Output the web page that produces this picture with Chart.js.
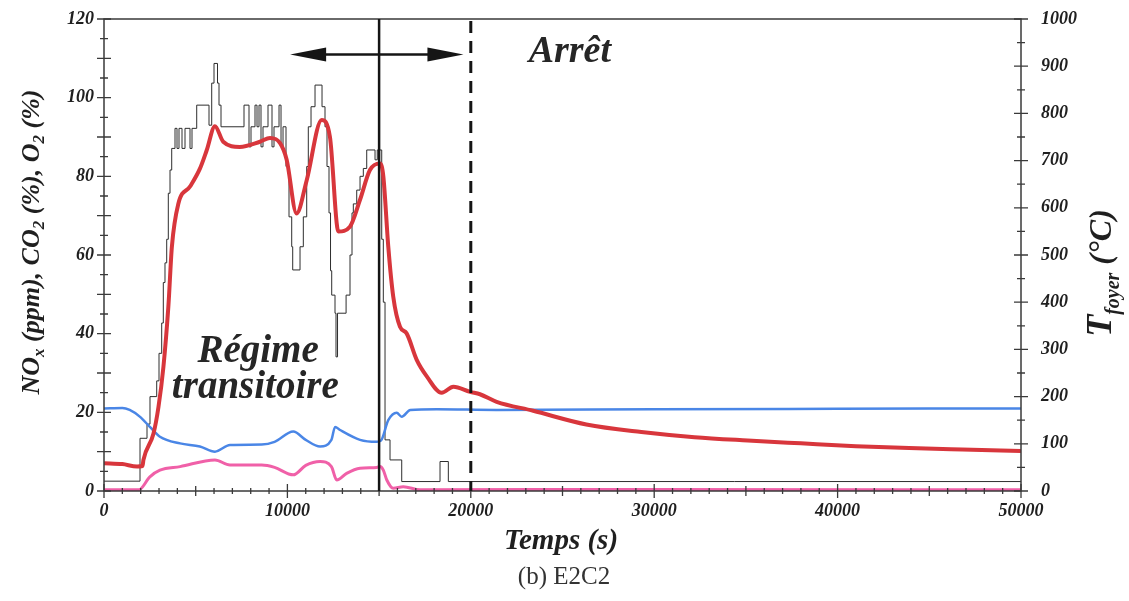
<!DOCTYPE html>
<html lang="fr">
<head>
<meta charset="utf-8">
<title>E2C2</title>
<script src="https://cdn.jsdelivr.net/npm/chart.js"></script>
<style>
  html, body { margin: 0; padding: 0; background: #fff; }
  #wrap { width: 1129px; height: 601px; }
</style>
</head>
<body>
<div id="wrap"><canvas id="lineChart" width="1129" height="601"></canvas></div>
<script>
// Ticks des axes
const xTickValues = [0, 10000, 20000, 30000, 40000, 50000];
const yTickValues = [0, 20, 40, 60, 80, 100, 120];
const y1TickValues = [0, 100, 200, 300, 400, 500, 600, 700, 800, 900, 1000];

// NOx (ppm) - signal en escalier, chaque valeur tient jusqu'au point suivant
const noxTime = [0, 1963, 2345, 2508, 2874, 2999, 3146, 3234, 3326, 3419, 3506, 3599, 3692, 3872, 3981, 4090, 4253, 4417, 4690, 4799,
  5055, 5726, 5873, 5998, 6189, 6271, 6380, 7634, 7907, 8016, 8234, 8343, 8452, 8561, 8670, 8943, 9161, 9270, 9543, 9652,
  9761, 9924, 10088, 10235, 10290, 10688, 10868, 11053, 11140, 11288, 11506, 11888, 12051, 12160, 12269, 12351, 12416, 12596, 12650, 12733,
  13200, 13414, 13523, 13594, 13780, 13960, 14140, 14325, 14778, 14900, 15143, 15230, 15323, 15596, 16234, 18322, 18775, 50000];
const noxPpm = [2.5, 13.4, 17, 24, 28, 35, 42.7, 53, 58, 64, 75.7, 81.6, 87.1, 92.2, 87.1, 92.2, 87.1, 92.2, 87.1, 92.2,
  98.1, 93, 103.7, 108.7, 103.7, 98.1, 92.6, 98.1, 87.5, 92.6, 98.1, 92.6, 98.1, 87.5, 92.6, 98.1, 87.5, 92.6, 98.1, 87.5,
  92.6, 82.5, 69.7, 62.1, 56.2, 62.1, 69.7, 82.5, 92.6, 97.7, 103.2, 97.7, 92.6, 82.5, 70.7, 56, 49.8, 45.2, 34.1, 45.2,
  49.8, 60, 70.7, 73, 76.5, 80, 82, 86.7, 84.2, 86.7, 64, 48, 13, 7.9, 2.4, 7.5, 2.4, 2.4];

// O2 (%)
const o2Time = [0, 1000, 1400, 1950, 2500, 3050, 4150, 5230, 6050, 6870, 8600, 9300, 10320, 11000, 11780, 12400, 12600, 12870, 13960, 14870,
  15100, 15500, 15960, 16230, 16700, 18140, 21400, 30000, 40000, 50000];
const o2Pct = [21.0, 21.1, 20.6, 18.9, 16.3, 13.8, 12.1, 11.3, 10.0, 11.7, 11.8, 12.5, 15.1, 13.0, 11.3, 13.0, 16.3, 15.5, 13.0, 12.5,
  12.8, 18.0, 19.9, 18.9, 20.6, 20.8, 20.6, 20.8, 20.9, 21.0];

// CO2 (%)
const co2Time = [0, 1900, 2500, 3050, 4150, 6050, 6870, 8600, 9300, 10320, 11000, 11780, 12400, 12690, 13230, 13960, 14870, 15050, 15230, 15420,
  15770, 16320, 17230, 30000, 50000];
const co2Pct = [0.3, 0.3, 3.6, 5.3, 6.2, 7.9, 6.6, 6.6, 6.0, 4.1, 6.5, 7.5, 6.2, 2.8, 4.5, 5.8, 6.0, 6.2, 5.3, 2.8,
  0.7, 1.1, 0.3, 0.4, 0.3];

// T foyer (°C), axe de droite
const tempTime = [0, 1000, 1800, 2100, 2150, 2700, 2970, 3240, 3510, 3700, 4050, 4690, 5230, 5600, 6050, 6500, 7400, 8500, 9050, 9600,
  9960, 10500, 11050, 11870, 12320, 12780, 13410, 13960, 14500, 15050, 15230, 15500, 15770, 16140, 16500, 17050, 17600, 18410, 19050, 19960,
  20500, 21410, 23400, 26300, 29300, 32200, 35100, 38000, 41000, 43900, 46800, 50000];
const tempC = [59, 57, 52, 53, 66, 122, 178, 263, 391, 517, 608, 645, 683, 722, 773, 740, 729, 740, 748, 737,
  702, 588, 658, 786, 750, 550, 560, 617, 680, 694, 667, 518, 412, 348, 334, 278, 243, 208, 221, 210,
  205, 189, 170, 141, 125, 114, 107, 101, 95, 91, 88, 85];

const FONT = '"Liberation Serif", "Times New Roman", serif';
const TEXT = '#1f1f1f';

function toPoints(ts, vs) {
  return ts.map((t, i) => ({ x: t, y: vs[i] }));
}

// texte avec indices (NOx, CO2 ...)
function drawRich(ctx, parts, cx, cy, rot) {
  ctx.save();
  ctx.translate(cx, cy);
  ctx.rotate(rot);
  let total = 0;
  parts.forEach(p => {
    ctx.font = `italic bold ${p.size}px ${FONT}`;
    p.w = ctx.measureText(p.t).width;
    total += p.w;
  });
  let x = -total / 2;
  ctx.fillStyle = TEXT;
  ctx.textBaseline = 'alphabetic';
  ctx.textAlign = 'left';
  parts.forEach(p => {
    ctx.font = `italic bold ${p.size}px ${FONT}`;
    ctx.fillText(p.t, x, 9 + (p.dy || 0));
    x += p.w;
  });
  ctx.restore();
}

// on enlève le padding que Chart.js réserve pour les labels
function noPad(s) {
  s.paddingTop = 0;
  s.paddingBottom = 0;
  s.paddingLeft = 0;
  s.paddingRight = 0;
}

const decorPlugin = {
  id: 'decor',
  afterDraw(chart) {
    const ctx = chart.ctx;
    const a = chart.chartArea;
    const xs = chart.scales.x, ys = chart.scales.y, ys1 = chart.scales.y1;

    ctx.save();
    // cadre
    ctx.strokeStyle = '#3a3a3a';
    ctx.lineWidth = 1.5;
    ctx.strokeRect(a.left, a.top, a.right - a.left, a.bottom - a.top);

    // petites graduations
    ctx.lineWidth = 1.3;
    ctx.beginPath();
    for (let v = 0; v <= 50000; v += 1000) {
      const len = v % 10000 === 0 ? 7 : (v % 5000 === 0 ? 5 : 3);
      const px = xs.getPixelForValue(v);
      ctx.moveTo(px, a.bottom - len);
      ctx.lineTo(px, a.bottom + len);
    }
    for (let v = 0; v <= 120; v += 5) {
      const len = v % 10 === 0 ? 7 : 4;
      const py = ys.getPixelForValue(v);
      ctx.moveTo(a.left - len, py);
      ctx.lineTo(a.left + len, py);
    }
    for (let v = 0; v <= 1000; v += 50) {
      const len = v % 100 === 0 ? 7 : 4;
      const py = ys1.getPixelForValue(v);
      ctx.moveTo(a.right - len, py);
      ctx.lineTo(a.right + len, py);
    }
    ctx.stroke();

    // ligne verticale pleine (15000 s) et pointillée (20000 s)
    ctx.strokeStyle = '#151515';
    ctx.lineWidth = 2.5;
    ctx.beginPath();
    ctx.moveTo(xs.getPixelForValue(15000), a.top);
    ctx.lineTo(xs.getPixelForValue(15000), a.bottom);
    ctx.stroke();

    ctx.lineWidth = 3;
    ctx.setLineDash([12, 8]);
    ctx.beginPath();
    ctx.moveTo(xs.getPixelForValue(20000), a.top + 2);
    ctx.lineTo(xs.getPixelForValue(20000), a.bottom);
    ctx.stroke();
    ctx.setLineDash([]);

    // double flèche
    const ay = ys.getPixelForValue(111);
    const ax1 = xs.getPixelForValue(10150);
    const ax2 = xs.getPixelForValue(19600);
    ctx.lineWidth = 2.5;
    ctx.beginPath();
    ctx.moveTo(ax1 + 20, ay);
    ctx.lineTo(ax2 - 20, ay);
    ctx.stroke();
    ctx.fillStyle = '#151515';
    ctx.beginPath();
    ctx.moveTo(ax1, ay);
    ctx.lineTo(ax1 + 36, ay - 7);
    ctx.lineTo(ax1 + 36, ay + 7);
    ctx.closePath();
    ctx.fill();
    ctx.beginPath();
    ctx.moveTo(ax2, ay);
    ctx.lineTo(ax2 - 36, ay - 7);
    ctx.lineTo(ax2 - 36, ay + 7);
    ctx.closePath();
    ctx.fill();

    // annotations
    ctx.fillStyle = '#262626';
    ctx.textAlign = 'center';
    ctx.textBaseline = 'middle';
    ctx.font = `italic bold 38px ${FONT}`;
    ctx.fillText('Arrêt', xs.getPixelForValue(25400), ys.getPixelForValue(111.5));
    ctx.font = `italic bold 39px ${FONT}`;
    ctx.fillText('Régime', xs.getPixelForValue(8400), ys.getPixelForValue(35.3));
    ctx.fillText('transitoire', xs.getPixelForValue(8250), ys.getPixelForValue(26.2));

    // titres des axes
    drawRich(ctx, [
      { t: 'NO', size: 26 }, { t: 'x', size: 17, dy: 5 }, { t: ' (ppm), CO', size: 26 }, { t: '2', size: 17, dy: 5 },
      { t: ' (%), O', size: 26 }, { t: '2', size: 17, dy: 5 }, { t: ' (%)', size: 26 }
    ], 30, 242, -Math.PI / 2);
    drawRich(ctx, [
      { t: 'T', size: 36 }, { t: 'foyer', size: 20, dy: 8 }, { t: ' (°C)', size: 32 }
    ], 1102, 273, -Math.PI / 2);
    drawRich(ctx, [{ t: 'Temps (s)', size: 29 }], 561, 540, 0);

    // légende de la figure
    ctx.fillStyle = '#333';
    ctx.font = `25px ${FONT}`;
    ctx.textAlign = 'center';
    ctx.fillText('(b) E2C2', 564, 577);
    ctx.restore();
  }
};

const tickFont = { family: FONT, size: 18, style: 'italic', weight: 'bold' };

const ctx = document.getElementById('lineChart').getContext('2d');
const lineChart = new Chart(ctx, {
  type: 'line',
  data: {
    datasets: [
      {
        label: 'T foyer',
        data: toPoints(tempTime, tempC),
        yAxisID: 'y1',
        borderColor: '#d8363c',
        borderWidth: 4,
        pointRadius: 0,
        cubicInterpolationMode: 'monotone'
      },
      {
        label: 'O2',
        data: toPoints(o2Time, o2Pct),
        yAxisID: 'y',
        borderColor: '#4a86e6',
        borderWidth: 2.5,
        pointRadius: 0,
        cubicInterpolationMode: 'monotone'
      },
      {
        label: 'CO2',
        data: toPoints(co2Time, co2Pct),
        yAxisID: 'y',
        borderColor: '#f060a8',
        borderWidth: 3,
        pointRadius: 0,
        cubicInterpolationMode: 'monotone'
      },
      {
        label: 'NOx',
        data: toPoints(noxTime, noxPpm),
        yAxisID: 'y',
        borderColor: '#2e2e2e',
        borderWidth: 1,
        pointRadius: 0,
        stepped: true
      }
    ]
  },
  options: {
    responsive: false,
    devicePixelRatio: 1,
    animation: false,
    layout: { padding: { top: 19, left: 0, right: 0, bottom: 0 } },
    plugins: { legend: { display: false }, tooltip: { enabled: false } },
    scales: {
      x: {
        type: 'linear',
        min: 0,
        max: 50000,
        grid: { display: false, drawTicks: false },
        border: { display: false },
        ticks: { font: tickFont, color: TEXT, padding: 10, maxRotation: 0, callback: v => String(v) },
        afterBuildTicks: s => { s.ticks = xTickValues.map(v => ({ value: v })); },
        afterFit: s => { s.height = 110; noPad(s); }
      },
      y: {
        position: 'left',
        min: 0,
        max: 120,
        grid: { display: false, drawTicks: false },
        border: { display: false },
        ticks: { font: tickFont, color: TEXT, padding: 10, callback: v => String(v) },
        afterBuildTicks: s => { s.ticks = yTickValues.map(v => ({ value: v })); },
        afterFit: s => { s.width = 104; noPad(s); }
      },
      y1: {
        position: 'right',
        min: 0,
        max: 1000,
        grid: { display: false, drawTicks: false },
        border: { display: false },
        ticks: { font: tickFont, color: TEXT, padding: 20, callback: v => String(v) },
        afterBuildTicks: s => { s.ticks = y1TickValues.map(v => ({ value: v })); },
        afterFit: s => { s.width = 108; noPad(s); }
      }
    }
  },
  plugins: [decorPlugin]
});
</script>
</body>
</html>
